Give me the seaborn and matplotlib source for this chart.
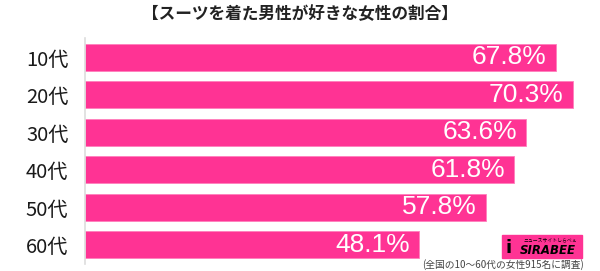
import matplotlib
matplotlib.use("Agg")
import matplotlib.pyplot as plt
import seaborn as sns
import pandas as pd
from matplotlib.patches import Rectangle

categories = ["10代", "20代", "30代", "40代", "50代", "60代"]
values = [67.8, 70.3, 63.6, 61.8, 57.8, 48.1]
value_labels = ["67.8%", "70.3%", "63.6%", "61.8%", "57.8%", "48.1%"]
title = "【スーツを着た男性が好きな女性の割合】"
note = "(全国の10～60代の女性915名に調査)"

sns.set_theme(style="white")
plt.rcParams['font.family'] = ['Noto Sans CJK JP', 'DejaVu Sans']

PINK = "#ff3394"
W, H = 600, 271
fig = plt.figure(figsize=(W / 100, H / 100), dpi=100)
ax = fig.add_axes([85 / W, (H - 264) / H, (W - 85) / W, 226 / H])

df = pd.DataFrame({"cat": categories, "val": values})
sns.barplot(data=df, x="val", y="cat", orient="h", color=PINK, width=0.72,
            saturation=1, ax=ax, edgecolor="#ff7fbd", linewidth=0.6)

ax.set_xlim(0, (W - 85) / 6.94)
ax.set_ylim(5.507, -0.52)
ax.set_xlabel("")
ax.set_ylabel("")
ax.set_xticks([])
for s in ["top", "right", "bottom"]:
    ax.spines[s].set_visible(False)
ax.spines["left"].set_color("#dddddd")
ax.spines["left"].set_linewidth(1.2)
ax.tick_params(axis="y", length=0, pad=12, labelsize=14.5, labelcolor="#1a1a1a")

for i, (v, lab) in enumerate(zip(values, value_labels)):
    ax.text(v - 1.3, i, lab, ha="right", va="center", color="white",
            fontsize=19, family=['Liberation Sans', 'DejaVu Sans'])

fig.text(0.5, 1 - 14 / H, title, ha="center", va="center", fontsize=12,
         fontweight="bold", color="#222222")
fig.text(584 / W, 1 - 265 / H, note, ha="right", va="center", fontsize=7,
         color="#444444")

# logo
fig.patches.append(Rectangle((502 / W, 1 - 258 / H), 80 / W, 23 / H,
                             transform=fig.transFigure, color=PINK, zorder=5))
fig.text(548 / W, 1 - 251 / H, "SIRABEE", ha="center", va="center", fontsize=8.5,
         fontweight="bold", style="italic", color="black", zorder=6,
         family=['DejaVu Sans'])
fig.text(550 / W, 1 - 240 / H, "ニュースサイトしらべぇ", ha="center", va="center",
         fontsize=3.5, color="black", zorder=6)
fig.text(509 / W, 1 - 248 / H, "i", ha="center", va="center", fontsize=13,
         fontweight="bold", color="black", zorder=6, family=['DejaVu Sans'])

fig.savefig("out.png", dpi=100)
